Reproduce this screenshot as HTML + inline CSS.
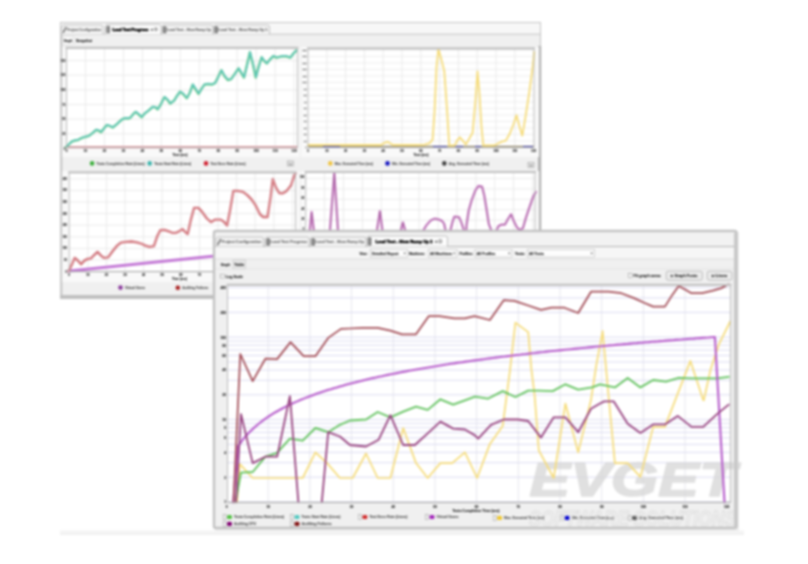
<!DOCTYPE html>
<html><head><meta charset="utf-8"><title>Load Test</title>
<style>html,body{margin:0;padding:0;background:#fff;}body{width:808px;height:564px;overflow:hidden;}svg{display:block;font-family:'Liberation Sans',Arial,sans-serif;}#wrap{filter:blur(1px);width:808px;height:564px;}</style>
</head><body><div id="wrap">
<svg width="808" height="564" viewBox="0 0 808 564">
<rect width="808" height="564" fill="#fff"/>
<rect x="60.0" y="530.5" width="684.0" height="4.5" fill="#f4f4f4" stroke="none" stroke-width="1" rx="0" />
<line x1="60.0" y1="534.3" x2="744.0" y2="534.3" stroke="#eeeeee" stroke-width="1.0"/>
<rect x="60.5" y="22.5" width="480.0" height="274.0" fill="#f0f0f0" stroke="#c4c4c4" stroke-width="1" rx="0" />
<rect x="60.0" y="34.0" width="2.4" height="262.0" fill="#cacaca" stroke="none" stroke-width="1" rx="0" />
<rect x="538.0" y="46.0" width="3.2" height="250.0" fill="#b2b2b2" stroke="none" stroke-width="1" rx="0" />
<rect x="62.4" y="47.0" width="237.0" height="110.0" fill="#f9f9f9" stroke="none" stroke-width="1" rx="0" />
<rect x="301.0" y="47.0" width="238.0" height="110.0" fill="#f9f9f9" stroke="none" stroke-width="1" rx="0" />
<rect x="62.4" y="171.0" width="237.0" height="111.0" fill="#f9f9f9" stroke="none" stroke-width="1" rx="0" />
<rect x="301.0" y="171.0" width="238.0" height="111.0" fill="#f9f9f9" stroke="none" stroke-width="1" rx="0" />
<rect x="60.0" y="295.0" width="481.0" height="4.0" fill="#c0c0c0" stroke="none" stroke-width="1" rx="0" />
<rect x="61.0" y="23.0" width="479.0" height="11.0" fill="#f7f7f7" stroke="none" stroke-width="1" rx="0" />
<line x1="61.0" y1="34.2" x2="540.0" y2="34.2" stroke="#c4c4c4" stroke-width="1"/>
<path d="M62.0,34.2 L62.0,27.0 Q62.0,25.0 64.0,25.0 L101.0,25.0 Q103.0,25.0 103.0,27.0 L103.0,34.2" fill="#f4f4f4" stroke="#b4b4b4" stroke-width="0.8"/>
<line x1="63.2" y1="32.7" x2="66.2" y2="27.0" stroke="#444" stroke-width="1.1"/>
<text x="67.0" y="30.9" font-size="3.6" fill="#6a6a6a" stroke="#6a6a6a" stroke-width="0.15" text-anchor="start" font-weight="bold" textLength="34.0" lengthAdjust="spacingAndGlyphs" >Project Configuration</text>
<path d="M105.5,34.2 L105.5,26.5 Q105.5,24.5 107.5,24.5 L159.0,24.5 Q161.0,24.5 161.0,26.5 L161.0,34.2" fill="#fcfcfc" stroke="#b4b4b4" stroke-width="0.8"/>
<rect x="106.9" y="26.3" width="2.6" height="6.5" fill="#999" stroke="#333" stroke-width="0.6" rx="0.6" />
<text x="112.5" y="30.6" font-size="3.6" fill="#000" stroke="#000" stroke-width="0.15" text-anchor="start" font-weight="bold" textLength="35.8" lengthAdjust="spacingAndGlyphs" style="stroke-width:0.45">Load Test Progress</text>
<text x="150.8" y="30.6" font-size="3.6" fill="#222" stroke="#222" stroke-width="0.15" text-anchor="start" font-weight="bold" >×</text>
<rect x="154.8" y="28.1" width="2.2" height="2.5" fill="none" stroke="#444" stroke-width="0.6" rx="0" />
<path d="M162.0,34.2 L162.0,27.0 Q162.0,25.0 164.0,25.0 L211.0,25.0 Q213.0,25.0 213.0,27.0 L213.0,34.2" fill="#f4f4f4" stroke="#b4b4b4" stroke-width="0.8"/>
<rect x="163.4" y="26.8" width="2.6" height="6.0" fill="#999" stroke="#333" stroke-width="0.6" rx="0.6" />
<text x="167.0" y="30.9" font-size="3.6" fill="#6a6a6a" stroke="#6a6a6a" stroke-width="0.15" text-anchor="start" font-weight="bold" textLength="44.0" lengthAdjust="spacingAndGlyphs" >Load Test - Slow Ramp Up</text>
<path d="M213.5,34.2 L213.5,27.0 Q213.5,25.0 215.5,25.0 L267.5,25.0 Q269.5,25.0 269.5,27.0 L269.5,34.2" fill="#f4f4f4" stroke="#b4b4b4" stroke-width="0.8"/>
<rect x="214.9" y="26.8" width="2.6" height="6.0" fill="#999" stroke="#333" stroke-width="0.6" rx="0.6" />
<text x="218.5" y="30.9" font-size="3.6" fill="#6a6a6a" stroke="#6a6a6a" stroke-width="0.15" text-anchor="start" font-weight="bold" textLength="49.0" lengthAdjust="spacingAndGlyphs" >Load Test - Slow Ramp Up 1</text>
<rect x="62.6" y="36.3" width="11.0" height="8.2" fill="#fbfbfb" stroke="#d0d0d0" stroke-width="0.5" rx="0" />
<text x="63.8" y="42.0" font-size="3.6" fill="#222" stroke="#222" stroke-width="0.15" text-anchor="start" font-weight="bold" textLength="8.4" lengthAdjust="spacingAndGlyphs" >Graph</text>
<text x="76.0" y="42.4" font-size="3.6" fill="#222" stroke="#222" stroke-width="0.15" text-anchor="start" font-weight="bold" textLength="16.0" lengthAdjust="spacingAndGlyphs" >Snapshot</text>
<rect x="66.5" y="48.3" width="231.0" height="99.1" fill="#fff" stroke="none" stroke-width="1" rx="0" />
<line x1="85.5" y1="48.3" x2="85.5" y2="147.4" stroke="#e6e6e6" stroke-width="0.8"/>
<line x1="104.4" y1="48.3" x2="104.4" y2="147.4" stroke="#e6e6e6" stroke-width="0.8"/>
<line x1="123.4" y1="48.3" x2="123.4" y2="147.4" stroke="#e6e6e6" stroke-width="0.8"/>
<line x1="142.4" y1="48.3" x2="142.4" y2="147.4" stroke="#e6e6e6" stroke-width="0.8"/>
<line x1="161.3" y1="48.3" x2="161.3" y2="147.4" stroke="#e6e6e6" stroke-width="0.8"/>
<line x1="180.3" y1="48.3" x2="180.3" y2="147.4" stroke="#e6e6e6" stroke-width="0.8"/>
<line x1="199.3" y1="48.3" x2="199.3" y2="147.4" stroke="#e6e6e6" stroke-width="0.8"/>
<line x1="218.3" y1="48.3" x2="218.3" y2="147.4" stroke="#e6e6e6" stroke-width="0.8"/>
<line x1="237.2" y1="48.3" x2="237.2" y2="147.4" stroke="#e6e6e6" stroke-width="0.8"/>
<line x1="256.2" y1="48.3" x2="256.2" y2="147.4" stroke="#e6e6e6" stroke-width="0.8"/>
<line x1="275.2" y1="48.3" x2="275.2" y2="147.4" stroke="#e6e6e6" stroke-width="0.8"/>
<line x1="294.1" y1="48.3" x2="294.1" y2="147.4" stroke="#e6e6e6" stroke-width="0.8"/>
<line x1="66.5" y1="133.8" x2="297.5" y2="133.8" stroke="#e6e6e6" stroke-width="0.8"/>
<line x1="66.5" y1="119.2" x2="297.5" y2="119.2" stroke="#e6e6e6" stroke-width="0.8"/>
<line x1="66.5" y1="104.5" x2="297.5" y2="104.5" stroke="#e6e6e6" stroke-width="0.8"/>
<line x1="66.5" y1="89.9" x2="297.5" y2="89.9" stroke="#e6e6e6" stroke-width="0.8"/>
<line x1="66.5" y1="75.2" x2="297.5" y2="75.2" stroke="#e6e6e6" stroke-width="0.8"/>
<line x1="66.5" y1="60.6" x2="297.5" y2="60.6" stroke="#e6e6e6" stroke-width="0.8"/>
<line x1="66.5" y1="147.1" x2="297.5" y2="147.1" stroke="#f09ca4" stroke-width="2.4"/>
<polyline points="65.9,147.0 68.8,144.5 71.7,141.6 74.6,140.6 77.6,140.2 80.5,138.6 83.4,137.3 86.3,136.7 89.3,135.7 92.2,133.4 96.1,129.9 99.0,130.8 101.0,132.2 103.9,128.5 106.8,125.0 109.8,126.0 112.7,127.5 116.6,124.4 119.5,121.7 122.4,119.1 125.4,118.1 128.3,118.5 130.2,117.8 133.2,114.2 135.7,111.9 138.0,113.9 141.6,117.2 144.9,113.3 148.8,110.3 152.7,106.8 155.6,107.4 157.6,109.4 160.5,104.9 164.4,97.1 167.3,99.6 170.2,103.5 174.1,100.6 177.1,95.7 180.0,91.8 182.9,93.8 186.8,98.2 189.8,92.8 192.7,84.6 195.6,89.3 198.5,93.8 201.5,88.9 204.4,84.6 208.3,84.0 212.2,84.6 215.1,83.0 218.0,77.2 221.4,70.3 224.5,76.2 227.8,80.1 231.1,79.1 234.6,74.2 238.5,68.4 241.5,73.3 244.0,77.6 247.3,63.5 249.9,52.2 253.2,65.5 255.7,77.6 258.4,67.4 261.6,57.3 264.3,61.2 266.8,63.5 269.8,59.6 273.3,56.1 276.6,57.7 280.5,56.7 284.4,56.1 287.3,56.7 290.2,57.7 293.2,53.8 296.3,50.6" fill="none" stroke="#6cc870" stroke-width="2.3" stroke-linejoin="round" stroke-linecap="round" />
<polyline points="66.1,146.8 69.0,144.2 72.0,141.3 74.9,140.3 77.8,139.9 80.7,138.4 83.7,137.0 86.6,136.4 89.5,135.5 92.4,133.1 96.3,129.6 99.3,130.6 101.2,131.9 104.2,128.2 107.1,124.7 110.0,125.7 112.9,127.3 116.8,124.1 119.8,121.4 122.7,118.9 125.6,117.9 128.5,118.3 130.5,117.5 133.4,114.0 136.0,111.7 138.3,113.6 141.8,116.9 145.1,113.0 149.0,110.1 152.9,106.6 155.9,107.2 157.8,109.1 160.7,104.6 164.6,96.8 167.6,99.4 170.5,103.3 174.4,100.3 177.3,95.5 180.2,91.6 183.2,93.5 187.1,98.0 190.0,92.5 192.9,84.3 195.9,89.0 198.8,93.5 201.7,88.6 204.6,84.3 208.5,83.8 212.4,84.3 215.4,82.8 218.3,76.9 221.6,70.1 224.7,75.9 228.1,79.8 231.4,78.9 234.9,74.0 238.8,68.1 241.7,73.0 244.2,77.3 247.6,63.3 250.1,51.9 253.4,65.2 256.0,77.3 258.7,67.2 261.8,57.0 264.5,60.9 267.1,63.3 270.0,59.4 273.5,55.8 276.8,57.4 280.7,56.4 284.6,55.8 287.6,56.4 290.5,57.4 293.4,53.5 296.5,50.4" fill="none" stroke="#5cc6c0" stroke-width="1.6" stroke-linejoin="round" stroke-linecap="round" />
<rect x="66.5" y="48.3" width="231.0" height="99.1" fill="none" stroke="#b4b4b4" stroke-width="0.9" rx="0" />
<line x1="65.5" y1="47.7" x2="298.5" y2="47.7" stroke="#c2c2c2" stroke-width="2.0"/>
<line x1="66.5" y1="147.4" x2="297.5" y2="147.4" stroke="#a8a8a8" stroke-width="1.0"/>
<text x="66.5" y="152.3" font-size="3" fill="#3a3a3a" stroke="#3a3a3a" stroke-width="0.15" text-anchor="middle" font-weight="bold" >0</text>
<text x="85.5" y="152.3" font-size="3" fill="#3a3a3a" stroke="#3a3a3a" stroke-width="0.15" text-anchor="middle" font-weight="bold" >10</text>
<text x="104.4" y="152.3" font-size="3" fill="#3a3a3a" stroke="#3a3a3a" stroke-width="0.15" text-anchor="middle" font-weight="bold" >20</text>
<text x="123.4" y="152.3" font-size="3" fill="#3a3a3a" stroke="#3a3a3a" stroke-width="0.15" text-anchor="middle" font-weight="bold" >30</text>
<text x="142.4" y="152.3" font-size="3" fill="#3a3a3a" stroke="#3a3a3a" stroke-width="0.15" text-anchor="middle" font-weight="bold" >40</text>
<text x="161.3" y="152.3" font-size="3" fill="#3a3a3a" stroke="#3a3a3a" stroke-width="0.15" text-anchor="middle" font-weight="bold" >50</text>
<text x="180.3" y="152.3" font-size="3" fill="#3a3a3a" stroke="#3a3a3a" stroke-width="0.15" text-anchor="middle" font-weight="bold" >60</text>
<text x="199.3" y="152.3" font-size="3" fill="#3a3a3a" stroke="#3a3a3a" stroke-width="0.15" text-anchor="middle" font-weight="bold" >70</text>
<text x="218.3" y="152.3" font-size="3" fill="#3a3a3a" stroke="#3a3a3a" stroke-width="0.15" text-anchor="middle" font-weight="bold" >80</text>
<text x="237.2" y="152.3" font-size="3" fill="#3a3a3a" stroke="#3a3a3a" stroke-width="0.15" text-anchor="middle" font-weight="bold" >90</text>
<text x="256.2" y="152.3" font-size="3" fill="#3a3a3a" stroke="#3a3a3a" stroke-width="0.15" text-anchor="middle" font-weight="bold" >100</text>
<text x="275.2" y="152.3" font-size="3" fill="#3a3a3a" stroke="#3a3a3a" stroke-width="0.15" text-anchor="middle" font-weight="bold" >110</text>
<text x="294.1" y="152.3" font-size="3" fill="#3a3a3a" stroke="#3a3a3a" stroke-width="0.15" text-anchor="middle" font-weight="bold" >120</text>
<text x="65.3" y="149.5" font-size="2.8" fill="#3a3a3a" stroke="#3a3a3a" stroke-width="0.15" text-anchor="end" font-weight="bold" >0</text>
<text x="65.3" y="134.8" font-size="2.8" fill="#3a3a3a" stroke="#3a3a3a" stroke-width="0.15" text-anchor="end" font-weight="bold" >25</text>
<text x="65.3" y="120.2" font-size="2.8" fill="#3a3a3a" stroke="#3a3a3a" stroke-width="0.15" text-anchor="end" font-weight="bold" >50</text>
<text x="65.3" y="105.5" font-size="2.8" fill="#3a3a3a" stroke="#3a3a3a" stroke-width="0.15" text-anchor="end" font-weight="bold" >75</text>
<text x="65.3" y="90.9" font-size="2.8" fill="#3a3a3a" stroke="#3a3a3a" stroke-width="0.15" text-anchor="end" font-weight="bold" >100</text>
<text x="65.3" y="76.2" font-size="2.8" fill="#3a3a3a" stroke="#3a3a3a" stroke-width="0.15" text-anchor="end" font-weight="bold" >125</text>
<text x="65.3" y="61.6" font-size="2.8" fill="#3a3a3a" stroke="#3a3a3a" stroke-width="0.15" text-anchor="end" font-weight="bold" >150</text>
<text x="180.0" y="156.2" font-size="3" fill="#333" stroke="#333" stroke-width="0.15" text-anchor="middle" font-weight="bold" >Time (sec)</text>
<rect x="308.0" y="48.9" width="226.0" height="98.5" fill="#fff" stroke="none" stroke-width="1" rx="0" />
<line x1="326.8" y1="48.9" x2="326.8" y2="147.4" stroke="#e6e6e6" stroke-width="0.8"/>
<line x1="345.6" y1="48.9" x2="345.6" y2="147.4" stroke="#e6e6e6" stroke-width="0.8"/>
<line x1="364.4" y1="48.9" x2="364.4" y2="147.4" stroke="#e6e6e6" stroke-width="0.8"/>
<line x1="383.2" y1="48.9" x2="383.2" y2="147.4" stroke="#e6e6e6" stroke-width="0.8"/>
<line x1="402.0" y1="48.9" x2="402.0" y2="147.4" stroke="#e6e6e6" stroke-width="0.8"/>
<line x1="420.8" y1="48.9" x2="420.8" y2="147.4" stroke="#e6e6e6" stroke-width="0.8"/>
<line x1="439.6" y1="48.9" x2="439.6" y2="147.4" stroke="#e6e6e6" stroke-width="0.8"/>
<line x1="458.4" y1="48.9" x2="458.4" y2="147.4" stroke="#e6e6e6" stroke-width="0.8"/>
<line x1="477.2" y1="48.9" x2="477.2" y2="147.4" stroke="#e6e6e6" stroke-width="0.8"/>
<line x1="496.0" y1="48.9" x2="496.0" y2="147.4" stroke="#e6e6e6" stroke-width="0.8"/>
<line x1="514.8" y1="48.9" x2="514.8" y2="147.4" stroke="#e6e6e6" stroke-width="0.8"/>
<line x1="308.0" y1="140.9" x2="534.0" y2="140.9" stroke="#e6e6e6" stroke-width="0.7"/>
<line x1="308.0" y1="134.4" x2="534.0" y2="134.4" stroke="#e6e6e6" stroke-width="0.7"/>
<line x1="308.0" y1="127.9" x2="534.0" y2="127.9" stroke="#e6e6e6" stroke-width="0.7"/>
<line x1="308.0" y1="121.4" x2="534.0" y2="121.4" stroke="#e6e6e6" stroke-width="0.7"/>
<line x1="308.0" y1="114.9" x2="534.0" y2="114.9" stroke="#e6e6e6" stroke-width="0.7"/>
<line x1="308.0" y1="108.4" x2="534.0" y2="108.4" stroke="#e6e6e6" stroke-width="0.7"/>
<line x1="308.0" y1="101.9" x2="534.0" y2="101.9" stroke="#e6e6e6" stroke-width="0.7"/>
<line x1="308.0" y1="95.4" x2="534.0" y2="95.4" stroke="#e6e6e6" stroke-width="0.7"/>
<line x1="308.0" y1="88.9" x2="534.0" y2="88.9" stroke="#e6e6e6" stroke-width="0.7"/>
<line x1="308.0" y1="82.4" x2="534.0" y2="82.4" stroke="#e6e6e6" stroke-width="0.7"/>
<line x1="308.0" y1="75.9" x2="534.0" y2="75.9" stroke="#e6e6e6" stroke-width="0.7"/>
<line x1="308.0" y1="69.4" x2="534.0" y2="69.4" stroke="#e6e6e6" stroke-width="0.7"/>
<line x1="308.0" y1="62.9" x2="534.0" y2="62.9" stroke="#e6e6e6" stroke-width="0.7"/>
<line x1="308.0" y1="56.4" x2="534.0" y2="56.4" stroke="#e6e6e6" stroke-width="0.7"/>
<line x1="308.0" y1="49.9" x2="534.0" y2="49.9" stroke="#e6e6e6" stroke-width="0.7"/>
<line x1="308.0" y1="146.7" x2="534.0" y2="146.7" stroke="#a09478" stroke-width="1.8"/>
<line x1="323.0" y1="146.9" x2="340.0" y2="146.9" stroke="#3434b8" stroke-width="1.7"/>
<line x1="433.0" y1="146.9" x2="447.0" y2="146.9" stroke="#3434b8" stroke-width="1.7"/>
<line x1="455.0" y1="146.9" x2="463.0" y2="146.9" stroke="#3434b8" stroke-width="1.7"/>
<line x1="475.0" y1="146.9" x2="481.0" y2="146.9" stroke="#3434b8" stroke-width="1.7"/>
<line x1="523.0" y1="146.9" x2="533.0" y2="146.9" stroke="#3434b8" stroke-width="1.7"/>
<polyline points="308.0,145.0 381.0,145.0 384.5,142.8 387.5,141.8 390.5,143.5 393.0,145.0 416.0,145.0 423.8,144.9 429.7,143.1 432.6,139.6 434.5,112.3 436.5,67.4 438.4,48.9 441.4,59.6 444.3,71.3 447.2,112.3 449.2,145.5 455.0,145.5 457.0,140.6 459.9,137.3 462.8,140.6 465.8,144.5 468.7,139.6 472.6,132.8 475.5,100.6 477.5,71.3 479.4,92.8 481.4,126.0 483.3,145.5 494.0,145.5 498.0,143.5 501.9,141.6 505.8,140.6 509.7,133.8 513.6,124.0 516.5,115.2 519.4,126.0 522.3,135.7 525.3,118.1 529.2,92.8 533.1,63.5 534.2,51.8" fill="none" stroke="#f6dc7a" stroke-width="1.8" stroke-linejoin="round" stroke-linecap="round" />
<rect x="308.0" y="48.9" width="226.0" height="98.5" fill="none" stroke="#b4b4b4" stroke-width="0.9" rx="0" />
<line x1="307.0" y1="48.3" x2="535.0" y2="48.3" stroke="#c2c2c2" stroke-width="2.0"/>
<line x1="308.0" y1="147.4" x2="534.0" y2="147.4" stroke="#a8a8a8" stroke-width="1.0"/>
<text x="308.0" y="152.3" font-size="3" fill="#3a3a3a" stroke="#3a3a3a" stroke-width="0.15" text-anchor="middle" font-weight="bold" >0</text>
<text x="326.8" y="152.3" font-size="3" fill="#3a3a3a" stroke="#3a3a3a" stroke-width="0.15" text-anchor="middle" font-weight="bold" >10</text>
<text x="345.6" y="152.3" font-size="3" fill="#3a3a3a" stroke="#3a3a3a" stroke-width="0.15" text-anchor="middle" font-weight="bold" >20</text>
<text x="364.4" y="152.3" font-size="3" fill="#3a3a3a" stroke="#3a3a3a" stroke-width="0.15" text-anchor="middle" font-weight="bold" >30</text>
<text x="383.2" y="152.3" font-size="3" fill="#3a3a3a" stroke="#3a3a3a" stroke-width="0.15" text-anchor="middle" font-weight="bold" >40</text>
<text x="402.0" y="152.3" font-size="3" fill="#3a3a3a" stroke="#3a3a3a" stroke-width="0.15" text-anchor="middle" font-weight="bold" >50</text>
<text x="420.8" y="152.3" font-size="3" fill="#3a3a3a" stroke="#3a3a3a" stroke-width="0.15" text-anchor="middle" font-weight="bold" >60</text>
<text x="439.6" y="152.3" font-size="3" fill="#3a3a3a" stroke="#3a3a3a" stroke-width="0.15" text-anchor="middle" font-weight="bold" >70</text>
<text x="458.4" y="152.3" font-size="3" fill="#3a3a3a" stroke="#3a3a3a" stroke-width="0.15" text-anchor="middle" font-weight="bold" >80</text>
<text x="477.2" y="152.3" font-size="3" fill="#3a3a3a" stroke="#3a3a3a" stroke-width="0.15" text-anchor="middle" font-weight="bold" >90</text>
<text x="496.0" y="152.3" font-size="3" fill="#3a3a3a" stroke="#3a3a3a" stroke-width="0.15" text-anchor="middle" font-weight="bold" >100</text>
<text x="514.8" y="152.3" font-size="3" fill="#3a3a3a" stroke="#3a3a3a" stroke-width="0.15" text-anchor="middle" font-weight="bold" >110</text>
<text x="533.6" y="152.3" font-size="3" fill="#3a3a3a" stroke="#3a3a3a" stroke-width="0.15" text-anchor="middle" font-weight="bold" >120</text>
<text x="306.5" y="148.4" font-size="2.4" fill="#3a3a3a" stroke="#3a3a3a" stroke-width="0.15" text-anchor="end" font-weight="bold" >0</text>
<text x="306.5" y="141.9" font-size="2.4" fill="#3a3a3a" stroke="#3a3a3a" stroke-width="0.15" text-anchor="end" font-weight="bold" >10</text>
<text x="306.5" y="135.4" font-size="2.4" fill="#3a3a3a" stroke="#3a3a3a" stroke-width="0.15" text-anchor="end" font-weight="bold" >20</text>
<text x="306.5" y="128.9" font-size="2.4" fill="#3a3a3a" stroke="#3a3a3a" stroke-width="0.15" text-anchor="end" font-weight="bold" >30</text>
<text x="306.5" y="122.4" font-size="2.4" fill="#3a3a3a" stroke="#3a3a3a" stroke-width="0.15" text-anchor="end" font-weight="bold" >40</text>
<text x="306.5" y="115.9" font-size="2.4" fill="#3a3a3a" stroke="#3a3a3a" stroke-width="0.15" text-anchor="end" font-weight="bold" >50</text>
<text x="306.5" y="109.4" font-size="2.4" fill="#3a3a3a" stroke="#3a3a3a" stroke-width="0.15" text-anchor="end" font-weight="bold" >60</text>
<text x="306.5" y="102.9" font-size="2.4" fill="#3a3a3a" stroke="#3a3a3a" stroke-width="0.15" text-anchor="end" font-weight="bold" >70</text>
<text x="306.5" y="96.4" font-size="2.4" fill="#3a3a3a" stroke="#3a3a3a" stroke-width="0.15" text-anchor="end" font-weight="bold" >80</text>
<text x="306.5" y="89.9" font-size="2.4" fill="#3a3a3a" stroke="#3a3a3a" stroke-width="0.15" text-anchor="end" font-weight="bold" >90</text>
<text x="306.5" y="83.4" font-size="2.4" fill="#3a3a3a" stroke="#3a3a3a" stroke-width="0.15" text-anchor="end" font-weight="bold" >100</text>
<text x="306.5" y="76.9" font-size="2.4" fill="#3a3a3a" stroke="#3a3a3a" stroke-width="0.15" text-anchor="end" font-weight="bold" >110</text>
<text x="306.5" y="70.4" font-size="2.4" fill="#3a3a3a" stroke="#3a3a3a" stroke-width="0.15" text-anchor="end" font-weight="bold" >120</text>
<text x="306.5" y="63.9" font-size="2.4" fill="#3a3a3a" stroke="#3a3a3a" stroke-width="0.15" text-anchor="end" font-weight="bold" >130</text>
<text x="306.5" y="57.4" font-size="2.4" fill="#3a3a3a" stroke="#3a3a3a" stroke-width="0.15" text-anchor="end" font-weight="bold" >140</text>
<text x="306.5" y="50.9" font-size="2.4" fill="#3a3a3a" stroke="#3a3a3a" stroke-width="0.15" text-anchor="end" font-weight="bold" >150</text>
<text x="421.0" y="156.2" font-size="3" fill="#333" stroke="#333" stroke-width="0.15" text-anchor="middle" font-weight="bold" >Time (sec)</text>
<circle cx="92.1" cy="163.4" r="2.3" fill="#3cae3c"/>
<text x="96.6" y="164.6" font-size="3.3" fill="#5a5a5a" stroke="#5a5a5a" stroke-width="0.15" text-anchor="start" font-weight="bold" textLength="48.0" lengthAdjust="spacingAndGlyphs" >Tests Completion Rate (Lines)</text>
<circle cx="149.7" cy="163.4" r="2.3" fill="#3cb4ac"/>
<text x="154.2" y="164.6" font-size="3.3" fill="#5a5a5a" stroke="#5a5a5a" stroke-width="0.15" text-anchor="start" font-weight="bold" textLength="37.0" lengthAdjust="spacingAndGlyphs" >Tests Start Rate (Lines)</text>
<circle cx="206.0" cy="163.4" r="2.3" fill="#d02030"/>
<text x="210.5" y="164.6" font-size="3.3" fill="#5a5a5a" stroke="#5a5a5a" stroke-width="0.15" text-anchor="start" font-weight="bold" textLength="35.0" lengthAdjust="spacingAndGlyphs" >Test Error Rate (Lines)</text>
<circle cx="330.3" cy="163.4" r="2.3" fill="#f0c440"/>
<text x="334.8" y="164.6" font-size="3.3" fill="#5a5a5a" stroke="#5a5a5a" stroke-width="0.15" text-anchor="start" font-weight="bold" textLength="38.0" lengthAdjust="spacingAndGlyphs" >Max. Executed Time (ms)</text>
<circle cx="387.5" cy="163.4" r="2.3" fill="#1414c0"/>
<text x="392.0" y="164.6" font-size="3.3" fill="#5a5a5a" stroke="#5a5a5a" stroke-width="0.15" text-anchor="start" font-weight="bold" textLength="38.0" lengthAdjust="spacingAndGlyphs" >Min. Executed Time (ms)</text>
<circle cx="444.3" cy="163.4" r="2.3" fill="#404040"/>
<text x="448.8" y="164.6" font-size="3.3" fill="#5a5a5a" stroke="#5a5a5a" stroke-width="0.15" text-anchor="start" font-weight="bold" textLength="40.0" lengthAdjust="spacingAndGlyphs" >Avg. Executed Time (ms)</text>
<rect x="287.5" y="161.0" width="6.0" height="5.0" fill="#dcdcdc" stroke="#999" stroke-width="0.5" rx="0" />
<rect x="528.0" y="162.5" width="6.0" height="5.0" fill="#dcdcdc" stroke="#999" stroke-width="0.5" rx="0" />
<text x="290.5" y="164.6" font-size="3" fill="#2a2a2a" stroke="#2a2a2a" stroke-width="0.15" text-anchor="middle" font-weight="bold" >...</text>
<text x="531.0" y="166.1" font-size="3" fill="#2a2a2a" stroke="#2a2a2a" stroke-width="0.15" text-anchor="middle" font-weight="bold" >...</text>
<rect x="69.2" y="172.8" width="226.3" height="98.8" fill="#fff" stroke="none" stroke-width="1" rx="0" />
<line x1="87.8" y1="172.8" x2="87.8" y2="271.6" stroke="#e6e6e6" stroke-width="0.8"/>
<line x1="106.4" y1="172.8" x2="106.4" y2="271.6" stroke="#e6e6e6" stroke-width="0.8"/>
<line x1="125.0" y1="172.8" x2="125.0" y2="271.6" stroke="#e6e6e6" stroke-width="0.8"/>
<line x1="143.6" y1="172.8" x2="143.6" y2="271.6" stroke="#e6e6e6" stroke-width="0.8"/>
<line x1="162.2" y1="172.8" x2="162.2" y2="271.6" stroke="#e6e6e6" stroke-width="0.8"/>
<line x1="180.8" y1="172.8" x2="180.8" y2="271.6" stroke="#e6e6e6" stroke-width="0.8"/>
<line x1="199.4" y1="172.8" x2="199.4" y2="271.6" stroke="#e6e6e6" stroke-width="0.8"/>
<line x1="218.0" y1="172.8" x2="218.0" y2="271.6" stroke="#e6e6e6" stroke-width="0.8"/>
<line x1="236.6" y1="172.8" x2="236.6" y2="271.6" stroke="#e6e6e6" stroke-width="0.8"/>
<line x1="255.2" y1="172.8" x2="255.2" y2="271.6" stroke="#e6e6e6" stroke-width="0.8"/>
<line x1="273.8" y1="172.8" x2="273.8" y2="271.6" stroke="#e6e6e6" stroke-width="0.8"/>
<line x1="292.4" y1="172.8" x2="292.4" y2="271.6" stroke="#e6e6e6" stroke-width="0.8"/>
<line x1="69.2" y1="260.0" x2="295.5" y2="260.0" stroke="#e6e6e6" stroke-width="0.8"/>
<line x1="69.2" y1="248.4" x2="295.5" y2="248.4" stroke="#e6e6e6" stroke-width="0.8"/>
<line x1="69.2" y1="236.8" x2="295.5" y2="236.8" stroke="#e6e6e6" stroke-width="0.8"/>
<line x1="69.2" y1="225.2" x2="295.5" y2="225.2" stroke="#e6e6e6" stroke-width="0.8"/>
<line x1="69.2" y1="213.6" x2="295.5" y2="213.6" stroke="#e6e6e6" stroke-width="0.8"/>
<line x1="69.2" y1="202.0" x2="295.5" y2="202.0" stroke="#e6e6e6" stroke-width="0.8"/>
<line x1="69.2" y1="190.4" x2="295.5" y2="190.4" stroke="#e6e6e6" stroke-width="0.8"/>
<line x1="69.2" y1="178.8" x2="295.5" y2="178.8" stroke="#e6e6e6" stroke-width="0.8"/>
<polyline points="69.0,271.1 297.0,247.5" fill="none" stroke="#cc84dc" stroke-width="3.0" stroke-linejoin="round" stroke-linecap="round" />
<polyline points="69.0,271.1 297.0,247.5" fill="none" stroke="#ba6ccf" stroke-width="1.2" stroke-linejoin="round" stroke-linecap="round" />
<polyline points="68.8,271.1 72.0,264.3 74.7,257.9 77.3,260.0 81.1,264.3 84.7,260.4 87.9,258.9 91.1,258.3 93.9,255.3 97.5,251.9 100.7,255.3 103.9,257.9 108.1,257.4 112.4,251.5 116.6,246.2 120.9,242.6 126.2,241.9 131.5,241.5 136.9,242.3 142.2,244.0 145.4,245.7 149.6,246.8 153.9,246.2 157.1,236.6 160.3,230.2 164.5,229.8 168.8,231.3 172.0,232.8 176.0,232.8 178.1,231.9 182.4,229.1 185.6,232.3 187.7,234.0 190.9,219.6 194.1,207.9 198.3,207.9 201.5,211.1 206.9,218.5 211.1,222.1 215.4,219.6 220.7,219.6 223.9,221.7 227.1,225.5 230.3,208.9 233.4,190.9 237.7,190.9 243.0,191.9 247.3,195.1 251.5,199.4 255.8,205.7 260.0,214.3 263.2,217.0 267.5,217.0 270.7,196.2 272.8,179.1 276.0,187.7 279.2,193.0 282.4,193.4 286.6,190.9 290.9,185.5 294.1,176.0 295.6,173.2" fill="none" stroke="#c8646c" stroke-width="2.3" stroke-linejoin="round" stroke-linecap="round" />
<polyline points="68.8,271.1 72.0,264.3 74.7,257.9 77.3,260.0 81.1,264.3 84.7,260.4 87.9,258.9 91.1,258.3 93.9,255.3 97.5,251.9 100.7,255.3 103.9,257.9 108.1,257.4 112.4,251.5 116.6,246.2 120.9,242.6 126.2,241.9 131.5,241.5 136.9,242.3 142.2,244.0 145.4,245.7 149.6,246.8 153.9,246.2 157.1,236.6 160.3,230.2 164.5,229.8 168.8,231.3 172.0,232.8 176.0,232.8 178.1,231.9 182.4,229.1 185.6,232.3 187.7,234.0 190.9,219.6 194.1,207.9 198.3,207.9 201.5,211.1 206.9,218.5 211.1,222.1 215.4,219.6 220.7,219.6 223.9,221.7 227.1,225.5 230.3,208.9 233.4,190.9 237.7,190.9 243.0,191.9 247.3,195.1 251.5,199.4 255.8,205.7 260.0,214.3 263.2,217.0 267.5,217.0 270.7,196.2 272.8,179.1 276.0,187.7 279.2,193.0 282.4,193.4 286.6,190.9 290.9,185.5 294.1,176.0 295.6,173.2" fill="none" stroke="#e6a0a4" stroke-width="0.8" stroke-linejoin="round" stroke-linecap="round" />
<rect x="69.2" y="172.8" width="226.3" height="98.8" fill="none" stroke="#b4b4b4" stroke-width="0.9" rx="0" />
<line x1="68.2" y1="172.2" x2="296.5" y2="172.2" stroke="#c2c2c2" stroke-width="2.0"/>
<line x1="69.2" y1="271.6" x2="295.5" y2="271.6" stroke="#a8a8a8" stroke-width="1.0"/>
<text x="69.2" y="276.0" font-size="3" fill="#3a3a3a" stroke="#3a3a3a" stroke-width="0.15" text-anchor="middle" font-weight="bold" >0</text>
<text x="87.8" y="276.0" font-size="3" fill="#3a3a3a" stroke="#3a3a3a" stroke-width="0.15" text-anchor="middle" font-weight="bold" >10</text>
<text x="106.4" y="276.0" font-size="3" fill="#3a3a3a" stroke="#3a3a3a" stroke-width="0.15" text-anchor="middle" font-weight="bold" >20</text>
<text x="125.0" y="276.0" font-size="3" fill="#3a3a3a" stroke="#3a3a3a" stroke-width="0.15" text-anchor="middle" font-weight="bold" >30</text>
<text x="143.6" y="276.0" font-size="3" fill="#3a3a3a" stroke="#3a3a3a" stroke-width="0.15" text-anchor="middle" font-weight="bold" >40</text>
<text x="162.2" y="276.0" font-size="3" fill="#3a3a3a" stroke="#3a3a3a" stroke-width="0.15" text-anchor="middle" font-weight="bold" >50</text>
<text x="180.8" y="276.0" font-size="3" fill="#3a3a3a" stroke="#3a3a3a" stroke-width="0.15" text-anchor="middle" font-weight="bold" >60</text>
<text x="199.4" y="276.0" font-size="3" fill="#3a3a3a" stroke="#3a3a3a" stroke-width="0.15" text-anchor="middle" font-weight="bold" >70</text>
<text x="218.0" y="276.0" font-size="3" fill="#3a3a3a" stroke="#3a3a3a" stroke-width="0.15" text-anchor="middle" font-weight="bold" >80</text>
<text x="236.6" y="276.0" font-size="3" fill="#3a3a3a" stroke="#3a3a3a" stroke-width="0.15" text-anchor="middle" font-weight="bold" >90</text>
<text x="255.2" y="276.0" font-size="3" fill="#3a3a3a" stroke="#3a3a3a" stroke-width="0.15" text-anchor="middle" font-weight="bold" >100</text>
<text x="273.8" y="276.0" font-size="3" fill="#3a3a3a" stroke="#3a3a3a" stroke-width="0.15" text-anchor="middle" font-weight="bold" >110</text>
<text x="292.4" y="276.0" font-size="3" fill="#3a3a3a" stroke="#3a3a3a" stroke-width="0.15" text-anchor="middle" font-weight="bold" >120</text>
<text x="67.0" y="272.6" font-size="2.6" fill="#3a3a3a" stroke="#3a3a3a" stroke-width="0.15" text-anchor="end" font-weight="bold" >0</text>
<text x="67.0" y="261.0" font-size="2.6" fill="#3a3a3a" stroke="#3a3a3a" stroke-width="0.15" text-anchor="end" font-weight="bold" >50</text>
<text x="67.0" y="249.4" font-size="2.6" fill="#3a3a3a" stroke="#3a3a3a" stroke-width="0.15" text-anchor="end" font-weight="bold" >100</text>
<text x="67.0" y="237.8" font-size="2.6" fill="#3a3a3a" stroke="#3a3a3a" stroke-width="0.15" text-anchor="end" font-weight="bold" >150</text>
<text x="67.0" y="226.2" font-size="2.6" fill="#3a3a3a" stroke="#3a3a3a" stroke-width="0.15" text-anchor="end" font-weight="bold" >200</text>
<text x="67.0" y="214.6" font-size="2.6" fill="#3a3a3a" stroke="#3a3a3a" stroke-width="0.15" text-anchor="end" font-weight="bold" >250</text>
<text x="67.0" y="203.0" font-size="2.6" fill="#3a3a3a" stroke="#3a3a3a" stroke-width="0.15" text-anchor="end" font-weight="bold" >300</text>
<text x="67.0" y="191.4" font-size="2.6" fill="#3a3a3a" stroke="#3a3a3a" stroke-width="0.15" text-anchor="end" font-weight="bold" >350</text>
<text x="67.0" y="179.8" font-size="2.6" fill="#3a3a3a" stroke="#3a3a3a" stroke-width="0.15" text-anchor="end" font-weight="bold" >400</text>
<text x="179.5" y="279.8" font-size="3" fill="#333" stroke="#333" stroke-width="0.15" text-anchor="middle" font-weight="bold" >Time (sec)</text>
<circle cx="120.5" cy="287.6" r="2.3" fill="#8a3a9c"/>
<text x="125.0" y="288.8" font-size="3.3" fill="#5a5a5a" stroke="#5a5a5a" stroke-width="0.15" text-anchor="start" font-weight="bold" textLength="20.0" lengthAdjust="spacingAndGlyphs" >Virtual Users</text>
<circle cx="177.8" cy="287.7" r="2.3" fill="#a82020"/>
<text x="182.3" y="288.9" font-size="3.3" fill="#5a5a5a" stroke="#5a5a5a" stroke-width="0.15" text-anchor="start" font-weight="bold" textLength="26.0" lengthAdjust="spacingAndGlyphs" >Auditing Failures</text>
<rect x="305.7" y="172.6" width="229.3" height="99.0" fill="#fff" stroke="none" stroke-width="1" rx="0" />
<line x1="324.6" y1="172.6" x2="324.6" y2="271.6" stroke="#e6e6e6" stroke-width="0.8"/>
<line x1="343.5" y1="172.6" x2="343.5" y2="271.6" stroke="#e6e6e6" stroke-width="0.8"/>
<line x1="362.4" y1="172.6" x2="362.4" y2="271.6" stroke="#e6e6e6" stroke-width="0.8"/>
<line x1="381.3" y1="172.6" x2="381.3" y2="271.6" stroke="#e6e6e6" stroke-width="0.8"/>
<line x1="400.2" y1="172.6" x2="400.2" y2="271.6" stroke="#e6e6e6" stroke-width="0.8"/>
<line x1="419.1" y1="172.6" x2="419.1" y2="271.6" stroke="#e6e6e6" stroke-width="0.8"/>
<line x1="438.0" y1="172.6" x2="438.0" y2="271.6" stroke="#e6e6e6" stroke-width="0.8"/>
<line x1="456.9" y1="172.6" x2="456.9" y2="271.6" stroke="#e6e6e6" stroke-width="0.8"/>
<line x1="475.8" y1="172.6" x2="475.8" y2="271.6" stroke="#e6e6e6" stroke-width="0.8"/>
<line x1="494.7" y1="172.6" x2="494.7" y2="271.6" stroke="#e6e6e6" stroke-width="0.8"/>
<line x1="513.6" y1="172.6" x2="513.6" y2="271.6" stroke="#e6e6e6" stroke-width="0.8"/>
<line x1="532.5" y1="172.6" x2="532.5" y2="271.6" stroke="#e6e6e6" stroke-width="0.8"/>
<line x1="305.7" y1="230.5" x2="535.0" y2="230.5" stroke="#e6e6e6" stroke-width="0.8"/>
<line x1="305.7" y1="220.1" x2="535.0" y2="220.1" stroke="#e6e6e6" stroke-width="0.8"/>
<line x1="305.7" y1="209.7" x2="535.0" y2="209.7" stroke="#e6e6e6" stroke-width="0.8"/>
<line x1="305.7" y1="199.3" x2="535.0" y2="199.3" stroke="#e6e6e6" stroke-width="0.8"/>
<line x1="305.7" y1="188.9" x2="535.0" y2="188.9" stroke="#e6e6e6" stroke-width="0.8"/>
<line x1="305.7" y1="178.5" x2="535.0" y2="178.5" stroke="#e6e6e6" stroke-width="0.8"/>
<polyline points="308.6,243.2 311.6,212.0 315.3,243.2" fill="none" stroke="#d894d4" stroke-width="2.3" stroke-linejoin="round" stroke-linecap="round" />
<polyline points="308.6,243.2 311.6,212.0 315.3,243.2" fill="none" stroke="#9c5494" stroke-width="1.0" stroke-linejoin="round" stroke-linecap="round" />
<polyline points="329.0,243.2 334.3,173.1 338.8,243.2" fill="none" stroke="#d894d4" stroke-width="2.3" stroke-linejoin="round" stroke-linecap="round" />
<polyline points="329.0,243.2 334.3,173.1 338.8,243.2" fill="none" stroke="#9c5494" stroke-width="1.0" stroke-linejoin="round" stroke-linecap="round" />
<polyline points="375.0,243.2 379.9,211.2 384.1,243.2" fill="none" stroke="#d894d4" stroke-width="2.3" stroke-linejoin="round" stroke-linecap="round" />
<polyline points="375.0,243.2 379.9,211.2 384.1,243.2" fill="none" stroke="#9c5494" stroke-width="1.0" stroke-linejoin="round" stroke-linecap="round" />
<polyline points="397.7,243.2 402.9,222.4 408.9,243.2" fill="none" stroke="#d894d4" stroke-width="2.3" stroke-linejoin="round" stroke-linecap="round" />
<polyline points="397.7,243.2 402.9,222.4 408.9,243.2" fill="none" stroke="#9c5494" stroke-width="1.0" stroke-linejoin="round" stroke-linecap="round" />
<polyline points="421.9,243.2 422.7,231.3 426.4,225.3 430.9,220.2 434.6,218.7 438.3,219.4 442.0,220.9 444.2,223.9 445.7,231.3 446.4,243.2" fill="none" stroke="#d894d4" stroke-width="2.3" stroke-linejoin="round" stroke-linecap="round" />
<polyline points="421.9,243.2 422.7,231.3 426.4,225.3 430.9,220.2 434.6,218.7 438.3,219.4 442.0,220.9 444.2,223.9 445.7,231.3 446.4,243.2" fill="none" stroke="#9c5494" stroke-width="1.0" stroke-linejoin="round" stroke-linecap="round" />
<polyline points="449.6,243.2 450.2,231.3 452.4,222.4 454.3,216.7 459.1,217.2 461.3,222.4 464.3,231.3 465.0,243.2" fill="none" stroke="#d894d4" stroke-width="2.3" stroke-linejoin="round" stroke-linecap="round" />
<polyline points="449.6,243.2 450.2,231.3 452.4,222.4 454.3,216.7 459.1,217.2 461.3,222.4 464.3,231.3 465.0,243.2" fill="none" stroke="#9c5494" stroke-width="1.0" stroke-linejoin="round" stroke-linecap="round" />
<polyline points="465.8,243.2 466.5,225.3 468.7,210.5 471.7,200.1 475.4,190.4 478.4,186.0 482.1,186.7 484.3,195.6 486.5,209.0 488.8,223.9 491.7,231.3 492.5,243.2" fill="none" stroke="#d894d4" stroke-width="2.3" stroke-linejoin="round" stroke-linecap="round" />
<polyline points="465.8,243.2 466.5,225.3 468.7,210.5 471.7,200.1 475.4,190.4 478.4,186.0 482.1,186.7 484.3,195.6 486.5,209.0 488.8,223.9 491.7,231.3 492.5,243.2" fill="none" stroke="#9c5494" stroke-width="1.0" stroke-linejoin="round" stroke-linecap="round" />
<polyline points="495.5,243.2 496.2,231.3 498.4,226.1 501.4,224.6 505.1,224.6 507.3,220.2 511.1,214.2 514.0,221.6 517.0,227.6 520.0,229.8 522.9,228.3 525.9,217.9 529.6,206.8 533.3,196.4 536.0,191.9" fill="none" stroke="#d894d4" stroke-width="2.3" stroke-linejoin="round" stroke-linecap="round" />
<polyline points="495.5,243.2 496.2,231.3 498.4,226.1 501.4,224.6 505.1,224.6 507.3,220.2 511.1,214.2 514.0,221.6 517.0,227.6 520.0,229.8 522.9,228.3 525.9,217.9 529.6,206.8 533.3,196.4 536.0,191.9" fill="none" stroke="#9c5494" stroke-width="1.0" stroke-linejoin="round" stroke-linecap="round" />
<rect x="305.7" y="172.6" width="229.3" height="99.0" fill="none" stroke="#b4b4b4" stroke-width="0.9" rx="0" />
<line x1="304.7" y1="172.0" x2="536.0" y2="172.0" stroke="#c2c2c2" stroke-width="2.0"/>
<line x1="305.7" y1="271.6" x2="535.0" y2="271.6" stroke="#a8a8a8" stroke-width="1.0"/>
<text x="304.3" y="230.3" font-size="2.6" fill="#3a3a3a" stroke="#3a3a3a" stroke-width="0.15" text-anchor="end" font-weight="bold" >0</text>
<text x="304.3" y="219.9" font-size="2.6" fill="#3a3a3a" stroke="#3a3a3a" stroke-width="0.15" text-anchor="end" font-weight="bold" >20</text>
<text x="304.3" y="209.5" font-size="2.6" fill="#3a3a3a" stroke="#3a3a3a" stroke-width="0.15" text-anchor="end" font-weight="bold" >40</text>
<text x="304.3" y="199.1" font-size="2.6" fill="#3a3a3a" stroke="#3a3a3a" stroke-width="0.15" text-anchor="end" font-weight="bold" >60</text>
<text x="304.3" y="188.7" font-size="2.6" fill="#3a3a3a" stroke="#3a3a3a" stroke-width="0.15" text-anchor="end" font-weight="bold" >80</text>
<text x="304.3" y="178.3" font-size="2.6" fill="#3a3a3a" stroke="#3a3a3a" stroke-width="0.15" text-anchor="end" font-weight="bold" >100</text>
<rect x="215.0" y="232.0" width="524.0" height="299.0" fill="#e6e6e6" stroke="none" stroke-width="1" rx="0" opacity="0.6"/>
<rect x="214.0" y="231.0" width="522.5" height="297.0" fill="#f0f0f0" stroke="#c2c2c2" stroke-width="2.4" rx="2" />
<rect x="215.5" y="232.5" width="519.5" height="14.0" fill="#f2f2f2" stroke="none" stroke-width="1" rx="0" />
<line x1="215.5" y1="246.6" x2="735.0" y2="246.6" stroke="#b0b0b0" stroke-width="1"/>
<path d="M216.5,246.6 L216.5,239.0 Q216.5,237.0 218.5,237.0 L261.5,237.0 Q263.5,237.0 263.5,239.0 L263.5,246.6" fill="#f4f4f4" stroke="#b4b4b4" stroke-width="0.8"/>
<line x1="217.7" y1="245.1" x2="220.7" y2="239.0" stroke="#444" stroke-width="1.1"/>
<text x="221.5" y="243.2" font-size="4" fill="#6a6a6a" stroke="#6a6a6a" stroke-width="0.15" text-anchor="start" font-weight="bold" textLength="40.0" lengthAdjust="spacingAndGlyphs" >Project Configuration</text>
<path d="M265.5,246.6 L265.5,239.0 Q265.5,237.0 267.5,237.0 L307.0,237.0 Q309.0,237.0 309.0,239.0 L309.0,246.6" fill="#f4f4f4" stroke="#b4b4b4" stroke-width="0.8"/>
<rect x="266.9" y="238.8" width="2.6" height="6.4" fill="#999" stroke="#333" stroke-width="0.6" rx="0.6" />
<text x="270.5" y="243.2" font-size="4" fill="#6a6a6a" stroke="#6a6a6a" stroke-width="0.15" text-anchor="start" font-weight="bold" textLength="36.5" lengthAdjust="spacingAndGlyphs" >Load Test Progress</text>
<path d="M310.5,246.6 L310.5,239.0 Q310.5,237.0 312.5,237.0 L364.0,237.0 Q366.0,237.0 366.0,239.0 L366.0,246.6" fill="#f4f4f4" stroke="#b4b4b4" stroke-width="0.8"/>
<rect x="311.9" y="238.8" width="2.6" height="6.4" fill="#999" stroke="#333" stroke-width="0.6" rx="0.6" />
<text x="315.5" y="243.2" font-size="4" fill="#6a6a6a" stroke="#6a6a6a" stroke-width="0.15" text-anchor="start" font-weight="bold" textLength="48.5" lengthAdjust="spacingAndGlyphs" >Load Test - Slow Ramp Up</text>
<path d="M367.0,246.6 L367.0,238.0 Q367.0,236.0 369.0,236.0 L445.5,236.0 Q447.5,236.0 447.5,238.0 L447.5,246.6" fill="#fcfcfc" stroke="#b4b4b4" stroke-width="0.8"/>
<rect x="368.4" y="237.8" width="2.6" height="7.4" fill="#999" stroke="#333" stroke-width="0.6" rx="0.6" />
<text x="375.5" y="242.8" font-size="4.2" fill="#000" stroke="#000" stroke-width="0.15" text-anchor="start" font-weight="bold" textLength="57.0" lengthAdjust="spacingAndGlyphs" style="stroke-width:0.45">Load Test - Slow Ramp Up 2</text>
<text x="435.0" y="242.8" font-size="4.2" fill="#222" stroke="#222" stroke-width="0.15" text-anchor="start" font-weight="bold" >×</text>
<rect x="439.0" y="239.9" width="2.5" height="2.9" fill="none" stroke="#444" stroke-width="0.6" rx="0" />
<rect x="215.5" y="247.2" width="519.5" height="11.6" fill="#f6f6f6" stroke="none" stroke-width="1" rx="0" />
<line x1="215.5" y1="259.0" x2="735.0" y2="259.0" stroke="#d8d8d8" stroke-width="0.8"/>
<text x="359.5" y="254.6" font-size="3.6" fill="#222" stroke="#222" stroke-width="0.15" text-anchor="start" font-weight="bold" textLength="8.0" lengthAdjust="spacingAndGlyphs" >View:</text>
<rect x="370.5" y="249.5" width="37.0" height="7.5" fill="#fdfdfd" stroke="#b8b8b8" stroke-width="0.6" rx="0" />
<text x="372.0" y="254.8" font-size="3.6" fill="#222" stroke="#222" stroke-width="0.15" text-anchor="start" font-weight="bold" >Detailed Report</text>
<path d="M403.5,252.7 l2.4,0 l-1.2,1.6 z" fill="#333"/>
<text x="409.0" y="254.6" font-size="3.6" fill="#222" stroke="#222" stroke-width="0.15" text-anchor="start" font-weight="bold" textLength="16.0" lengthAdjust="spacingAndGlyphs" >Machines:</text>
<rect x="428.5" y="249.5" width="28.5" height="7.5" fill="#fdfdfd" stroke="#b8b8b8" stroke-width="0.6" rx="0" />
<text x="430.0" y="254.8" font-size="3.6" fill="#222" stroke="#222" stroke-width="0.15" text-anchor="start" font-weight="bold" >All Machines</text>
<path d="M453.0,252.7 l2.4,0 l-1.2,1.6 z" fill="#333"/>
<text x="459.5" y="254.6" font-size="3.6" fill="#222" stroke="#222" stroke-width="0.15" text-anchor="start" font-weight="bold" textLength="13.5" lengthAdjust="spacingAndGlyphs" >Profiles:</text>
<rect x="475.0" y="249.5" width="37.0" height="7.5" fill="#fdfdfd" stroke="#b8b8b8" stroke-width="0.6" rx="0" />
<text x="476.5" y="254.8" font-size="3.6" fill="#222" stroke="#222" stroke-width="0.15" text-anchor="start" font-weight="bold" >All Profiles</text>
<path d="M508.0,252.7 l2.4,0 l-1.2,1.6 z" fill="#333"/>
<text x="515.0" y="254.6" font-size="3.6" fill="#222" stroke="#222" stroke-width="0.15" text-anchor="start" font-weight="bold" textLength="10.0" lengthAdjust="spacingAndGlyphs" >Tests:</text>
<rect x="527.5" y="249.5" width="67.0" height="7.5" fill="#fdfdfd" stroke="#b8b8b8" stroke-width="0.6" rx="0" />
<text x="529.0" y="254.8" font-size="3.6" fill="#222" stroke="#222" stroke-width="0.15" text-anchor="start" font-weight="bold" >All Tests</text>
<path d="M590.5,252.7 l2.4,0 l-1.2,1.6 z" fill="#333"/>
<text x="220.7" y="265.8" font-size="3.8" fill="#222" stroke="#222" stroke-width="0.15" text-anchor="start" font-weight="bold" textLength="9.5" lengthAdjust="spacingAndGlyphs" >Graph</text>
<rect x="233.0" y="260.0" width="12.5" height="8.8" fill="#e8e8e8" stroke="#c4c4c4" stroke-width="0.6" rx="0" />
<text x="234.3" y="265.8" font-size="3.8" fill="#2a2a2a" stroke="#2a2a2a" stroke-width="0.15" text-anchor="start" font-weight="bold" textLength="10.0" lengthAdjust="spacingAndGlyphs" >Table</text>
<line x1="215.5" y1="268.8" x2="735.0" y2="268.8" stroke="#dcdcdc" stroke-width="0.6"/>
<rect x="220.6" y="274.3" width="3.6" height="3.6" fill="#fff" stroke="#888" stroke-width="0.5" rx="0" />
<text x="225.8" y="277.6" font-size="3.8" fill="#222" stroke="#222" stroke-width="0.15" text-anchor="start" font-weight="bold" textLength="17.0" lengthAdjust="spacingAndGlyphs" >Log Scale</text>
<rect x="628.3" y="273.7" width="3.6" height="3.6" fill="#fff" stroke="#888" stroke-width="0.5" rx="0" />
<text x="633.6" y="277.0" font-size="3.8" fill="#222" stroke="#222" stroke-width="0.15" text-anchor="start" font-weight="bold" textLength="27.0" lengthAdjust="spacingAndGlyphs" >Fit graph areas</text>
<rect x="666.3" y="271.3" width="36.0" height="8.8" fill="#ececec" stroke="#a8a8a8" stroke-width="0.7" rx="1.6" />
<text x="684.3" y="277.0" font-size="3.8" fill="#222" stroke="#222" stroke-width="0.15" text-anchor="middle" font-weight="bold" textLength="26.0" lengthAdjust="spacingAndGlyphs" >▸ Graph Fonts</text>
<rect x="707.3" y="271.3" width="24.7" height="8.8" fill="#ececec" stroke="#a8a8a8" stroke-width="0.7" rx="1.6" />
<text x="719.6" y="277.0" font-size="3.8" fill="#222" stroke="#222" stroke-width="0.15" text-anchor="middle" font-weight="bold" textLength="15.0" lengthAdjust="spacingAndGlyphs" >▸ Lines</text>
<rect x="227.6" y="285.4" width="502.9" height="217.0" fill="#fff" stroke="none" stroke-width="1" rx="0" />
<line x1="268.2" y1="285.4" x2="268.2" y2="502.4" stroke="#e4e4ec" stroke-width="0.9"/>
<line x1="309.9" y1="285.4" x2="309.9" y2="502.4" stroke="#e4e4ec" stroke-width="0.9"/>
<line x1="351.6" y1="285.4" x2="351.6" y2="502.4" stroke="#e4e4ec" stroke-width="0.9"/>
<line x1="393.3" y1="285.4" x2="393.3" y2="502.4" stroke="#e4e4ec" stroke-width="0.9"/>
<line x1="435.0" y1="285.4" x2="435.0" y2="502.4" stroke="#e4e4ec" stroke-width="0.9"/>
<line x1="476.6" y1="285.4" x2="476.6" y2="502.4" stroke="#e4e4ec" stroke-width="0.9"/>
<line x1="518.3" y1="285.4" x2="518.3" y2="502.4" stroke="#e4e4ec" stroke-width="0.9"/>
<line x1="560.0" y1="285.4" x2="560.0" y2="502.4" stroke="#e4e4ec" stroke-width="0.9"/>
<line x1="601.7" y1="285.4" x2="601.7" y2="502.4" stroke="#e4e4ec" stroke-width="0.9"/>
<line x1="643.4" y1="285.4" x2="643.4" y2="502.4" stroke="#e4e4ec" stroke-width="0.9"/>
<line x1="685.0" y1="285.4" x2="685.0" y2="502.4" stroke="#e4e4ec" stroke-width="0.9"/>
<line x1="227.6" y1="502.0" x2="730.5" y2="502.0" stroke="#d9d9f0" stroke-width="0.9"/>
<line x1="227.6" y1="477.2" x2="730.5" y2="477.2" stroke="#d9d9f0" stroke-width="0.9"/>
<line x1="227.6" y1="462.7" x2="730.5" y2="462.7" stroke="#d9d9f0" stroke-width="0.9"/>
<line x1="227.6" y1="452.4" x2="730.5" y2="452.4" stroke="#d9d9f0" stroke-width="0.9"/>
<line x1="227.6" y1="444.4" x2="730.5" y2="444.4" stroke="#d9d9f0" stroke-width="0.9"/>
<line x1="227.6" y1="437.9" x2="730.5" y2="437.9" stroke="#d9d9f0" stroke-width="0.9"/>
<line x1="227.6" y1="432.4" x2="730.5" y2="432.4" stroke="#d9d9f0" stroke-width="0.9"/>
<line x1="227.6" y1="427.6" x2="730.5" y2="427.6" stroke="#d9d9f0" stroke-width="0.9"/>
<line x1="227.6" y1="423.4" x2="730.5" y2="423.4" stroke="#d9d9f0" stroke-width="0.9"/>
<line x1="227.6" y1="419.6" x2="730.5" y2="419.6" stroke="#d9d9f0" stroke-width="0.9"/>
<line x1="227.6" y1="394.8" x2="730.5" y2="394.8" stroke="#d9d9f0" stroke-width="0.9"/>
<line x1="227.6" y1="380.3" x2="730.5" y2="380.3" stroke="#d9d9f0" stroke-width="0.9"/>
<line x1="227.6" y1="370.0" x2="730.5" y2="370.0" stroke="#d9d9f0" stroke-width="0.9"/>
<line x1="227.6" y1="362.0" x2="730.5" y2="362.0" stroke="#d9d9f0" stroke-width="0.9"/>
<line x1="227.6" y1="355.5" x2="730.5" y2="355.5" stroke="#d9d9f0" stroke-width="0.9"/>
<line x1="227.6" y1="350.0" x2="730.5" y2="350.0" stroke="#d9d9f0" stroke-width="0.9"/>
<line x1="227.6" y1="345.2" x2="730.5" y2="345.2" stroke="#d9d9f0" stroke-width="0.9"/>
<line x1="227.6" y1="341.0" x2="730.5" y2="341.0" stroke="#d9d9f0" stroke-width="0.9"/>
<line x1="227.6" y1="337.2" x2="730.5" y2="337.2" stroke="#d9d9f0" stroke-width="0.9"/>
<line x1="227.6" y1="312.4" x2="730.5" y2="312.4" stroke="#d9d9f0" stroke-width="0.9"/>
<line x1="227.6" y1="297.9" x2="730.5" y2="297.9" stroke="#d9d9f0" stroke-width="0.9"/>
<line x1="227.6" y1="287.6" x2="730.5" y2="287.6" stroke="#d9d9f0" stroke-width="0.9"/>
<text transform="translate(529.5,496.4) scale(1.27,1)" font-size="48" font-weight="bold" font-style="italic" fill="#d6d6d6" stroke="#d6d6d6" stroke-width="1.6" stroke-linejoin="round" opacity="0.75">EVGET</text>
<polyline points="237.0,502.4 239.9,464.1 252.7,478.0 302.7,478.0 315.4,452.4 327.1,463.1 339.9,478.0 352.7,478.0 366.0,453.5 377.7,478.0 390.4,478.0 403.2,428.0 416.0,463.1 427.7,478.0 440.4,463.1 452.1,463.1 464.9,452.4 477.1,478.0 489.9,443.9 502.7,425.9 510.1,369.4 515.4,322.6 528.2,332.1 531.4,369.4 534.6,395.0 538.8,450.3 553.7,478.0 565.4,403.5 578.2,452.4 591.0,400.0 596.3,365.1 602.7,331.1 602.6,331.1 608.5,395.0 614.9,463.1 627.7,463.1 640.4,476.9 653.2,426.9 664.9,426.9 690.4,360.9 703.2,400.0 703.8,400.3 710.6,369.4 719.1,343.8 730.2,321.5" fill="none" stroke="#f6dc7a" stroke-width="1.7" stroke-linejoin="round" stroke-linecap="round" />
<polyline points="235.5,502.4 241.0,472.7 252.7,472.0 265.4,456.7 277.1,452.9 289.9,438.6 302.7,440.7 315.4,428.0 328.2,432.2 339.9,424.8 350.0,420.5 366.0,419.5 377.7,412.0 390.4,417.3 403.2,411.6 416.0,406.7 427.7,409.9 440.4,399.3 453.2,404.6 464.9,400.3 475.0,396.6 487.8,398.7 502.7,391.1 515.4,397.0 528.2,390.6 538.8,390.6 552.7,391.1 565.4,384.3 578.2,389.6 592.0,387.4 600.0,384.3 614.9,387.4 627.7,377.9 640.4,387.4 653.2,380.0 666.0,381.7 678.7,377.9 691.5,378.3 704.3,378.3 717.0,378.3 728.7,376.8" fill="none" stroke="#62c25e" stroke-width="1.85" stroke-linejoin="round" stroke-linecap="round" />
<polyline points="233.2,502.4 237.8,446.6 240.8,442.3 243.8,438.4 246.8,435.0 249.8,431.8 252.8,428.9 255.8,426.2 258.8,423.7 261.8,421.3 264.8,419.1 267.8,417.0 270.8,415.1 273.8,413.2 276.8,411.5 279.8,409.8 282.8,408.2 285.8,406.6 288.8,405.2 291.8,403.8 294.8,402.4 297.8,401.1 300.8,399.8 303.8,398.6 306.8,397.4 309.8,396.3 312.8,395.2 315.8,394.1 318.8,393.1 321.8,392.0 324.8,391.1 327.8,390.1 330.8,389.2 333.8,388.2 336.8,387.4 339.8,386.5 342.8,385.7 345.8,384.8 348.8,384.0 351.8,383.2 354.8,382.5 357.8,381.7 360.8,381.0 363.8,380.2 366.8,379.5 369.8,378.8 372.8,378.1 375.8,377.5 378.8,376.8 381.8,376.2 384.8,375.5 387.8,374.9 390.8,374.3 393.8,373.7 396.8,373.1 399.8,372.5 402.8,371.9 405.8,371.4 408.8,370.8 411.8,370.3 414.8,369.7 417.8,369.2 420.8,368.7 423.8,368.2 426.8,367.7 429.8,367.2 432.8,366.7 435.8,366.2 438.8,365.7 441.8,365.2 444.8,364.7 447.8,364.3 450.8,363.8 453.8,363.4 456.8,362.9 459.8,362.5 462.8,362.1 465.8,361.6 468.8,361.2 471.8,360.8 474.8,360.4 477.8,360.0 480.8,359.6 483.8,359.2 486.8,358.8 489.8,358.4 492.8,358.0 495.8,357.6 498.8,357.2 501.8,356.8 504.8,356.5 507.8,356.1 510.8,355.7 513.8,355.4 516.8,355.0 519.8,354.7 522.8,354.3 525.8,354.0 528.8,353.6 531.8,353.3 534.8,353.0 537.8,352.6 540.8,352.3 543.8,352.0 546.8,351.6 549.8,351.3 552.8,351.0 555.8,350.7 558.8,350.4 561.8,350.1 564.8,349.8 567.8,349.5 570.8,349.2 573.8,348.9 576.8,348.6 579.8,348.3 582.8,348.0 585.8,347.7 588.8,347.4 591.8,347.1 594.8,346.8 597.8,346.5 600.8,346.3 603.8,346.0 606.8,345.7 609.8,345.4 612.8,345.2 615.8,344.9 618.8,344.6 621.8,344.4 624.8,344.1 627.8,343.9 630.8,343.6 633.8,343.3 636.8,343.1 639.8,342.8 642.8,342.6 645.8,342.3 648.8,342.1 651.8,341.8 654.8,341.6 657.8,341.4 660.8,341.1 663.8,340.9 666.8,340.6 669.8,340.4 672.8,340.2 675.8,339.9 678.8,339.7 681.8,339.5 684.8,339.2 687.8,339.0 690.8,338.8 693.8,338.6 696.8,338.3 699.8,338.1 702.8,337.9 705.8,337.7 708.8,337.5 711.8,337.2 714.8,337.0 714.9,337.0 724.5,502.4" fill="none" stroke="#b65ccb" stroke-width="2.1" stroke-linejoin="round" stroke-linecap="round" />
<polyline points="236.0,502.4 241.0,414.1 252.7,463.1 265.4,456.7 277.1,456.7 289.9,396.1 298.4,502.4" fill="none" stroke="#96427f" stroke-width="1.8" stroke-linejoin="round" stroke-linecap="round" />
<polyline points="321.8,502.4 328.2,432.2 339.9,436.5 350.0,445.0 366.0,446.5 378.7,439.7 390.4,415.2 403.2,445.0 414.9,445.0 427.7,433.3 440.4,421.6 453.2,428.6 464.9,429.5 475.0,435.4 478.2,438.6 491.0,424.8 503.7,419.5 517.6,419.5 528.2,421.0 541.0,437.6 553.7,417.3 565.4,417.3 578.2,432.2 591.0,408.8 600.0,403.5 604.3,401.4 613.8,401.4 627.7,423.7 640.4,432.9 653.2,424.4 664.9,424.4 677.7,415.9 691.5,426.9 703.2,426.9 717.0,414.1 728.7,404.6" fill="none" stroke="#96427f" stroke-width="1.8" stroke-linejoin="round" stroke-linecap="round" />
<polyline points="233.5,502.4 240.3,354.0 252.7,381.1 265.4,358.7 277.1,359.1 290.5,342.1 303.7,356.2 315.4,356.2 328.2,337.9 341.0,328.9 350.0,328.5 362.8,327.9 377.7,327.9 390.4,330.6 402.1,334.3 416.0,334.3 428.7,316.2 439.4,316.2 454.3,318.3 464.9,318.3 474.5,316.2 489.9,320.0 503.7,300.2 514.4,300.9 528.2,305.5 541.0,309.8 551.6,307.7 564.4,307.7 578.2,313.0 591.0,291.7 600.0,291.7 608.5,291.7 621.3,293.2 634.0,298.1 644.7,303.0 653.2,306.6 664.9,306.6 672.3,294.9 678.7,286.0 685.1,289.6 691.5,293.2 702.1,293.2 712.8,290.6 721.3,288.1 728.7,284.3" fill="none" stroke="#a24c56" stroke-width="1.75" stroke-linejoin="round" stroke-linecap="round" />
<rect x="227.6" y="285.4" width="502.9" height="217.0" fill="none" stroke="#b4b4b4" stroke-width="0.9" rx="0" />
<line x1="226.6" y1="284.8" x2="731.5" y2="284.8" stroke="#c2c2c2" stroke-width="2.0"/>
<line x1="227.6" y1="502.4" x2="730.5" y2="502.4" stroke="#a8a8a8" stroke-width="1.0"/>
<text x="226.6" y="507.6" font-size="3.2" fill="#333" stroke="#333" stroke-width="0.15" text-anchor="middle" font-weight="bold" >0</text>
<text x="268.2" y="507.6" font-size="3.2" fill="#333" stroke="#333" stroke-width="0.15" text-anchor="middle" font-weight="bold" >10</text>
<text x="309.9" y="507.6" font-size="3.2" fill="#333" stroke="#333" stroke-width="0.15" text-anchor="middle" font-weight="bold" >20</text>
<text x="351.6" y="507.6" font-size="3.2" fill="#333" stroke="#333" stroke-width="0.15" text-anchor="middle" font-weight="bold" >30</text>
<text x="393.3" y="507.6" font-size="3.2" fill="#333" stroke="#333" stroke-width="0.15" text-anchor="middle" font-weight="bold" >40</text>
<text x="435.0" y="507.6" font-size="3.2" fill="#333" stroke="#333" stroke-width="0.15" text-anchor="middle" font-weight="bold" >50</text>
<text x="476.6" y="507.6" font-size="3.2" fill="#333" stroke="#333" stroke-width="0.15" text-anchor="middle" font-weight="bold" >60</text>
<text x="518.3" y="507.6" font-size="3.2" fill="#333" stroke="#333" stroke-width="0.15" text-anchor="middle" font-weight="bold" >70</text>
<text x="560.0" y="507.6" font-size="3.2" fill="#333" stroke="#333" stroke-width="0.15" text-anchor="middle" font-weight="bold" >80</text>
<text x="601.7" y="507.6" font-size="3.2" fill="#333" stroke="#333" stroke-width="0.15" text-anchor="middle" font-weight="bold" >90</text>
<text x="643.4" y="507.6" font-size="3.2" fill="#333" stroke="#333" stroke-width="0.15" text-anchor="middle" font-weight="bold" >100</text>
<text x="685.0" y="507.6" font-size="3.2" fill="#333" stroke="#333" stroke-width="0.15" text-anchor="middle" font-weight="bold" >110</text>
<text x="726.7" y="507.6" font-size="3.2" fill="#333" stroke="#333" stroke-width="0.15" text-anchor="middle" font-weight="bold" >120</text>
<text x="226.0" y="289.0" font-size="3.3" fill="#333" stroke="#333" stroke-width="0.15" text-anchor="end" font-weight="bold" >400</text>
<text x="226.0" y="313.8" font-size="3.3" fill="#333" stroke="#333" stroke-width="0.15" text-anchor="end" font-weight="bold" >200</text>
<text x="226.0" y="338.6" font-size="3.3" fill="#333" stroke="#333" stroke-width="0.15" text-anchor="end" font-weight="bold" >100</text>
<text x="226.0" y="346.6" font-size="3.3" fill="#333" stroke="#333" stroke-width="0.15" text-anchor="end" font-weight="bold" >80</text>
<text x="226.0" y="356.9" font-size="3.3" fill="#333" stroke="#333" stroke-width="0.15" text-anchor="end" font-weight="bold" >60</text>
<text x="226.0" y="371.4" font-size="3.3" fill="#333" stroke="#333" stroke-width="0.15" text-anchor="end" font-weight="bold" >40</text>
<text x="226.0" y="396.2" font-size="3.3" fill="#333" stroke="#333" stroke-width="0.15" text-anchor="end" font-weight="bold" >20</text>
<text x="226.0" y="421.0" font-size="3.3" fill="#333" stroke="#333" stroke-width="0.15" text-anchor="end" font-weight="bold" >10</text>
<text x="226.0" y="429.0" font-size="3.3" fill="#333" stroke="#333" stroke-width="0.15" text-anchor="end" font-weight="bold" >8</text>
<text x="226.0" y="439.3" font-size="3.3" fill="#333" stroke="#333" stroke-width="0.15" text-anchor="end" font-weight="bold" >6</text>
<text x="226.0" y="453.8" font-size="3.3" fill="#333" stroke="#333" stroke-width="0.15" text-anchor="end" font-weight="bold" >4</text>
<text x="226.0" y="478.6" font-size="3.3" fill="#333" stroke="#333" stroke-width="0.15" text-anchor="end" font-weight="bold" >2</text>
<text x="226.0" y="503.4" font-size="3.3" fill="#333" stroke="#333" stroke-width="0.15" text-anchor="end" font-weight="bold" >1</text>
<text x="476.0" y="511.9" font-size="3.6" fill="#2a2a2a" stroke="#2a2a2a" stroke-width="0.15" text-anchor="middle" font-weight="bold" textLength="47.0" lengthAdjust="spacingAndGlyphs" >Tests Completion Time (sec)</text>
<rect x="223.1" y="514.4" width="3.0" height="5.2" fill="none" stroke="#a8a8a8" stroke-width="0.6" rx="0" />
<rect x="227.0" y="514.9" width="5.0" height="4.2" fill="#50c040" stroke="none" stroke-width="1" rx="1.6" />
<text x="234.0" y="518.3" font-size="3.5" fill="#585858" stroke="#585858" stroke-width="0.15" text-anchor="start" font-weight="bold" textLength="50.0" lengthAdjust="spacingAndGlyphs" >Tests Completion Rate (Lines)</text>
<rect x="290.6" y="514.4" width="3.0" height="5.2" fill="none" stroke="#a8a8a8" stroke-width="0.6" rx="0" />
<rect x="294.5" y="514.9" width="5.0" height="4.2" fill="#50c8c0" stroke="none" stroke-width="1" rx="1.6" />
<text x="301.5" y="518.3" font-size="3.5" fill="#585858" stroke="#585858" stroke-width="0.15" text-anchor="start" font-weight="bold" textLength="39.0" lengthAdjust="spacingAndGlyphs" >Tests Start Rate (Lines)</text>
<rect x="358.5" y="514.4" width="3.0" height="5.2" fill="none" stroke="#a8a8a8" stroke-width="0.6" rx="0" />
<rect x="362.4" y="514.9" width="5.0" height="4.2" fill="#d02828" stroke="none" stroke-width="1" rx="1.6" />
<text x="369.4" y="518.3" font-size="3.5" fill="#585858" stroke="#585858" stroke-width="0.15" text-anchor="start" font-weight="bold" textLength="38.0" lengthAdjust="spacingAndGlyphs" >Test Error Rate (Lines)</text>
<rect x="425.6" y="514.4" width="3.0" height="5.2" fill="none" stroke="#a8a8a8" stroke-width="0.6" rx="0" />
<rect x="429.5" y="514.9" width="5.0" height="4.2" fill="#a020b8" stroke="none" stroke-width="1" rx="1.6" />
<text x="436.5" y="518.3" font-size="3.5" fill="#585858" stroke="#585858" stroke-width="0.15" text-anchor="start" font-weight="bold" textLength="22.0" lengthAdjust="spacingAndGlyphs" >Virtual Users</text>
<rect x="493.2" y="515.3" width="3.0" height="5.2" fill="none" stroke="#a8a8a8" stroke-width="0.6" rx="0" />
<rect x="497.1" y="515.8" width="5.0" height="4.2" fill="#f0c830" stroke="none" stroke-width="1" rx="1.6" />
<text x="504.1" y="519.2" font-size="3.5" fill="#585858" stroke="#585858" stroke-width="0.15" text-anchor="start" font-weight="bold" textLength="40.0" lengthAdjust="spacingAndGlyphs" >Max. Executed Time (ms)</text>
<rect x="560.8" y="515.3" width="3.0" height="5.2" fill="none" stroke="#a8a8a8" stroke-width="0.6" rx="0" />
<rect x="564.7" y="515.8" width="5.0" height="4.2" fill="#0000d0" stroke="none" stroke-width="1" rx="1.6" />
<text x="571.7" y="519.2" font-size="3.5" fill="#585858" stroke="#585858" stroke-width="0.15" text-anchor="start" font-weight="bold" textLength="42.0" lengthAdjust="spacingAndGlyphs" >Min. Executed Time (ms)</text>
<rect x="628.4" y="515.3" width="3.0" height="5.2" fill="none" stroke="#a8a8a8" stroke-width="0.6" rx="0" />
<rect x="632.3" y="515.8" width="5.0" height="4.2" fill="#505050" stroke="none" stroke-width="1" rx="1.6" />
<text x="639.3" y="519.2" font-size="3.5" fill="#585858" stroke="#585858" stroke-width="0.15" text-anchor="start" font-weight="bold" textLength="44.0" lengthAdjust="spacingAndGlyphs" >Avg. Executed Time (ms)</text>
<rect x="223.1" y="521.2" width="3.0" height="5.2" fill="none" stroke="#a8a8a8" stroke-width="0.6" rx="0" />
<rect x="227.0" y="521.7" width="5.0" height="4.2" fill="#800070" stroke="none" stroke-width="1" rx="1.6" />
<text x="234.0" y="525.1" font-size="3.5" fill="#585858" stroke="#585858" stroke-width="0.15" text-anchor="start" font-weight="bold" textLength="22.0" lengthAdjust="spacingAndGlyphs" >Auditing CPU</text>
<rect x="290.6" y="521.2" width="3.0" height="5.2" fill="none" stroke="#a8a8a8" stroke-width="0.6" rx="0" />
<rect x="294.5" y="521.7" width="5.0" height="4.2" fill="#801010" stroke="none" stroke-width="1" rx="1.6" />
<text x="301.5" y="525.1" font-size="3.5" fill="#585858" stroke="#585858" stroke-width="0.15" text-anchor="start" font-weight="bold" textLength="30.0" lengthAdjust="spacingAndGlyphs" >Auditing Failures</text>
<text transform="translate(529,525.5) scale(0.8,1)" font-size="22" font-weight="bold" font-style="italic" fill="none" stroke="#d8d8d8" stroke-width="0.9" stroke-opacity="0.8">SOFTWARE SOLUTIONS</text>
<rect x="734.0" y="233.0" width="3.5" height="295.0" fill="#c8c8c8" stroke="none" stroke-width="1" rx="0" />
</svg>
</div></body></html>
